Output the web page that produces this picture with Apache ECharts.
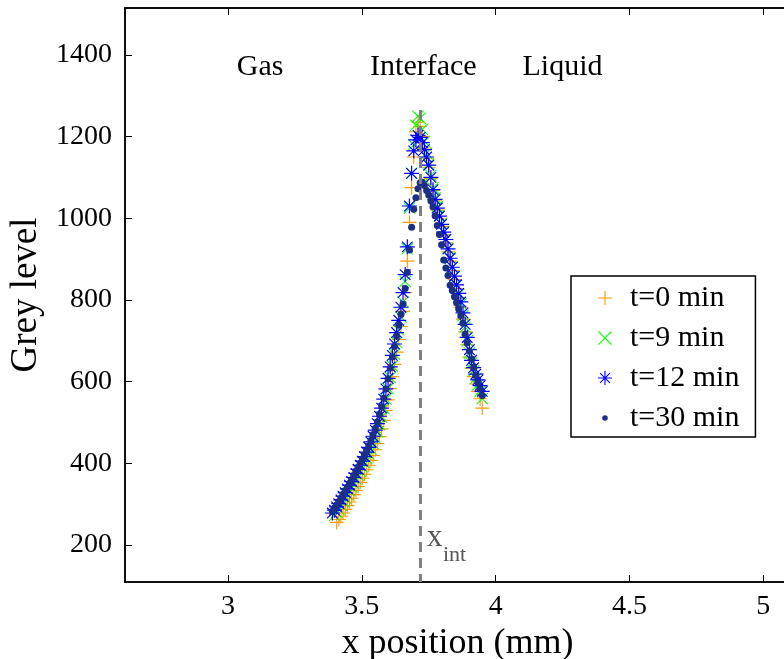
<!DOCTYPE html>
<html><head><meta charset="utf-8">
<script src="https://cdn.jsdelivr.net/npm/echarts@6/dist/echarts.min.js"></script>
<style>html,body{margin:0;padding:0;background:#fff}#c{width:784px;height:659px}</style>
</head><body><div id="c"></div>
<script>
// x positions (mm)
const xPositions = [3.390,3.398,3.406,3.414,3.422,3.430,3.438,3.446,3.454,3.462,
  3.470,3.478,3.486,3.494,3.502,3.510,3.518,3.526,3.534,3.542,
  3.550,3.558,3.566,3.574,3.582,3.590,3.598,3.606,3.614,3.622,
  3.630,3.638,3.646,3.654,3.662,3.670,3.678,3.686,3.694,3.702,
  3.710,3.718,3.726,3.734,3.742,3.750,3.758,3.766,3.774,3.782,
  3.790,3.798,3.806,3.814,3.822,3.830,3.838,3.846,3.854,3.862,
  3.870,3.878,3.886,3.894,3.902,3.910,3.918,3.926,3.934,3.942,3.950];
// grey levels per time
const grey_t0 = [null,null,255,262,270,278,287,296,305,314,
  323,333,343,353,363,373,384,395,407,419,
  433,448,465,484,505,529,555,583,612,642,
  672,703,735,772,818,895,990,1075,1150,1212,
  1235,1225,1200,1172,1147,1125,1097,1068,1043,1020,
  1000,980,960,940,918,895,872,850,828,805,
  782,753,722,690,660,633,612,594,576,558,535];
const grey_t9 = [null,272,280,288,297,306,315,324,333,342,
  351,361,371,381,391,401,412,423,435,448,
  462,477,494,513,534,557,583,610,638,667,
  696,726,758,795,845,925,1025,1110,1180,1228,
  1250,1245,1218,1188,1160,1133,1105,1075,1050,1028,
  1007,987,967,948,926,903,880,857,835,813,
  790,762,733,700,670,645,626,608,592,576,558];
const grey_t12 = [278,285,293,301,310,319,328,337,346,355,
  365,375,385,395,405,416,427,439,452,466,
  481,497,515,535,557,582,608,636,664,692,
  720,750,782,818,862,930,1030,1110,1165,1192,
  1203,1198,1185,1168,1150,1130,1100,1070,1046,1025,
  1005,985,966,948,925,902,880,858,837,816,
  795,768,740,708,678,652,634,618,604,590,576];
const grey_t30 = [282,290,298,306,315,324,333,342,351,360,
  370,380,390,400,410,420,431,443,456,470,
  485,501,519,538,559,582,607,633,660,686,
  712,738,765,790,828,868,922,978,1022,1050,
  1072,1087,1088,1080,1068,1057,1043,1028,1006,982,
  960,935,898,878,860,836,823,808,793,778,
  762,743,716,695,675,655,635,615,597,582,566];
const seriesNames = ['t=0 min','t=9 min','t=12 min','t=30 min'];
const xTicks = [3, 3.5, 4, 4.5, 5];
const yTicks = [200, 400, 600, 800, 1000, 1200, 1400];
const interfaceX = 3.72;
const regionLabels = [['Gas', 3.12], ['Interface', 3.73], ['Liquid', 4.25]];
const regionLabelY = 1370;

const FONT = 'Liberation Serif';
const sym = {
  plus: 'path://M9.2,0h1.6v20h-1.6z M0,9.2h20v1.6h-20z',
  cross: 'path://M0,1.2L1.2,0L20,18.8L18.8,20Z M18.8,0L20,1.2L1.2,20L0,18.8Z',
  star: 'path://M9.2,0h1.6v20h-1.6z M0,9.2h20v1.6h-20z M2.4,3.5L3.5,2.4L17.6,16.5L16.5,17.6Z M16.5,2.4L17.6,3.5L3.5,17.6L2.4,16.5Z',
  dot: 'path://M0,0h0.01v0.01h-0.01z M10,10h0.01v0.01h-0.01z M3,5a2,2 0 1,0 4,0a2,2 0 1,0 -4,0z'
};
function pts(arr){ const out=[]; arr.forEach((v,i)=>{ if(v!=null) out.push([xPositions[i], v]); }); return out; }

const chart = echarts.init(document.getElementById('c'), null, {renderer:'canvas'});
const xMin = 2.615, xMax = 5.1, yMin = 109, yMax = 1515;
chart.setOption({
  animation:false,
  backgroundColor:'#fff',
  grid:{left:125, top:8, right:-6, bottom:77, containLabel:false, outerBoundsMode:'none',
        show:true, borderColor:'#000', borderWidth:1.5, backgroundColor:'transparent'},
  xAxis:[{
    type:'value', min:xMin, max:xMax, position:'bottom',
    name:'x position (mm)', nameLocation:'middle', nameGap:34,
    nameTextStyle:{fontFamily:FONT, fontSize:36, color:'#000'},
    axisLine:{onZero:false, lineStyle:{color:'#000', width:1.5}},
    axisTick:{inside:true, length:7, customValues:xTicks, lineStyle:{color:'#000', width:1}},
    axisLabel:{customValues:xTicks, margin:11, fontFamily:FONT, fontSize:28, color:'#000', formatter:v=>String(v)},
    splitLine:{show:false}
  },{
    type:'value', min:xMin, max:xMax, position:'top',
    axisLine:{onZero:false, lineStyle:{color:'#000', width:1.5}},
    axisTick:{inside:true, length:7, customValues:xTicks, lineStyle:{color:'#000', width:1}},
    axisLabel:{show:false}, splitLine:{show:false}
  }],
  yAxis:{
    type:'value', min:yMin, max:yMax,
    name:'Grey level', nameLocation:'middle', nameGap:80,
    nameTextStyle:{fontFamily:FONT, fontSize:37, color:'#000'},
    axisLine:{onZero:false, lineStyle:{color:'#000', width:1.5}},
    axisTick:{inside:true, length:7, customValues:yTicks, lineStyle:{color:'#000', width:1}},
    axisLabel:{customValues:yTicks, margin:13, fontFamily:FONT, fontSize:28, color:'#000', formatter:v=>String(v)},
    splitLine:{show:false}
  },
  legend:{
    orient:'vertical', left:571, top:276,
    borderColor:'#000', borderWidth:1.5, padding:[7,16,4,27],
    itemWidth:14, itemHeight:14, itemGap:10,
    textStyle:{fontFamily:FONT, fontSize:30, color:'#000', lineHeight:30, padding:[0,0,0,13]},
    data:[
      {name:seriesNames[0], icon:sym.plus},
      {name:seriesNames[1], icon:sym.cross},
      {name:seriesNames[2], icon:sym.star},
      {name:seriesNames[3], icon:sym.dot}
    ]
  },
  series:[
    {name:seriesNames[0], type:'scatter', symbol:sym.plus, symbolSize:14, itemStyle:{color:'#FF9900', opacity:1}, data:pts(grey_t0)},
    {name:seriesNames[1], type:'scatter', symbol:sym.cross, symbolSize:12, itemStyle:{color:'#00FF00', opacity:1}, data:pts(grey_t9)},
    {name:seriesNames[2], type:'scatter', symbol:sym.star, symbolSize:15, itemStyle:{color:'#0000FF', opacity:1}, data:pts(grey_t12)},
    {name:seriesNames[3], type:'scatter', symbol:'circle', symbolSize:7, itemStyle:{color:'#1C2F87', opacity:1}, data:pts(grey_t30)},
    {type:'line', data:[], silent:true, z:5,
     markLine:{silent:true, symbol:'none', animation:false, label:{show:false},
       lineStyle:{color:'#808080', width:3, type:[10,6]},
       data:[[{coord:[interfaceX, 1265]},{coord:[interfaceX, yMin]}]]}
    },
    {type:'scatter', data:[], silent:true,
     markPoint:{silent:true, symbol:'circle', symbolSize:0,
       label:{show:true, position:'inside', fontFamily:FONT, fontSize:30, color:'#000', formatter:p=>p.name},
       data: regionLabels.map(r=>({name:r[0], coord:[r[1], regionLabelY]}))}
    }
  ],
  graphic:[
    {type:'text', left:427, top:522, z:100, style:{text:'x', font:'31px "Liberation Serif"', fill:'#555'}},
    {type:'text', left:443, top:544, z:100, style:{text:'int', font:'22px "Liberation Serif"', fill:'#555'}}
  ]
});
</script></body></html>
